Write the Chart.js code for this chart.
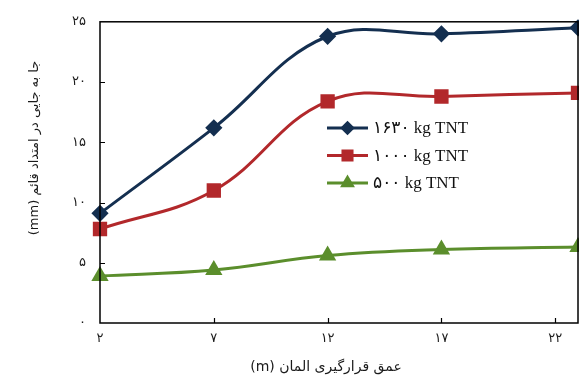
<!DOCTYPE html>
<html>
<head>
<meta charset="utf-8">
<script src="https://cdn.jsdelivr.net/npm/chart.js@4/dist/chart.umd.min.js"></script>
<style>
  html, body { margin: 0; padding: 0; background: #fff; }
  #wrap { width: 579px; height: 380px; position: relative; }
</style>
</head>
<body>
<div id="wrap"><canvas id="c" width="579" height="380"></canvas></div>
<script>
// ---- data ----
const depths = [2, 7, 12, 17, 23];
const tnt1630 = [9.1, 16.2, 23.8, 24.0, 24.5];
const tnt1000 = [7.8, 11.0, 18.4, 18.8, 19.1];
const tnt500 = [3.9, 4.4, 5.6, 6.1, 6.3];
const seriesLabels = ['۱۶۳۰ kg TNT', '۱۰۰۰ kg TNT', '۵۰۰ kg TNT'];
const xTickValues = [2, 7, 12, 17, 22];
const xTickLabels = ['۲', '۷', '۱۲', '۱۷', '۲۲'];
const yTickValues = [0, 5, 10, 15, 20, 25];
const yTickLabels = ['۰', '۵', '۱۰', '۱۵', '۲۰', '۲۵'];
const xTitle = 'عمق قرارگیری المان (m)';
const yTitle = 'جا به جایی در امتداد قائم (mm)';

const COLORS = ['#142f50', '#b2282b', '#5b8e2c'];
const FONT_FA = '"DejaVu Sans", sans-serif';

function pts(arr) { return depths.map((x, i) => ({ x: x, y: arr[i] })); }

const frameAndTicks = {
  id: 'frameAndTicks',
  afterDatasetsDraw(chart) {
    const { ctx, chartArea: a, scales } = chart;
    ctx.save();
    ctx.strokeStyle = '#000';
    ctx.lineWidth = 1.5;
    ctx.strokeRect(a.left, a.top, a.right - a.left, a.bottom - a.top);
    ctx.lineWidth = 1.2;
    ctx.beginPath();
    xTickValues.forEach(v => {
      if (v === scales.x.min) return;
      const px = Math.round(scales.x.getPixelForValue(v)) + 0.5;
      ctx.moveTo(px, a.bottom);
      ctx.lineTo(px, a.bottom - 5);
    });
    yTickValues.forEach(v => {
      if (v === scales.y.min || v === scales.y.max) return;
      const py = Math.round(scales.y.getPixelForValue(v)) + 0.5;
      ctx.moveTo(a.left, py);
      ctx.lineTo(a.left + 5, py);
    });
    ctx.stroke();
    ctx.restore();
  }
};

const titlesPlugin = {
  id: 'titlesPlugin',
  afterDraw(chart) {
    const { ctx } = chart;
    ctx.save();
    ctx.fillStyle = '#1a1a1a';
    ctx.direction = 'rtl';
    ctx.textAlign = 'center';
    ctx.textBaseline = 'middle';
    ctx.font = '14px ' + FONT_FA;
    ctx.fillText(xTitle, 326, 367);
    ctx.font = '13px ' + FONT_FA;
    ctx.translate(35, 148);
    ctx.rotate(-Math.PI / 2);
    ctx.fillText(yTitle, 0, 0);
    ctx.restore();
  }
};

const legendPlugin = {
  id: 'legendPlugin',
  afterDraw(chart) {
    const { ctx } = chart;
    ctx.save();
    chart.data.datasets.forEach((ds, i) => {
      const y = 128 + i * 27.5;
      ctx.strokeStyle = ds.borderColor;
      ctx.lineWidth = 3;
      ctx.beginPath();
      ctx.moveTo(327, y);
      ctx.lineTo(368, y);
      ctx.stroke();
      ctx.fillStyle = ds.borderColor;
      ctx.strokeStyle = ds.borderColor;
      Chart.helpers.drawPoint(ctx, {
        pointStyle: ds.pointStyle,
        radius: ds.pointRadius * 0.8,
        borderWidth: 1,
        rotation: 0
      }, 347.5, y);
      ctx.fillStyle = '#111';
      ctx.direction = 'ltr';
      ctx.textAlign = 'left';
      ctx.textBaseline = 'middle';
      ctx.font = '17px "Liberation Serif", "DejaVu Sans", serif';
      ctx.fillText(ds.label, 373, y + 1);
    });
    ctx.restore();
  }
};

const mk = (label, data, color, style, r) => ({
  label: label,
  data: pts(data),
  borderColor: color,
  backgroundColor: color,
  pointBackgroundColor: color,
  pointBorderColor: color,
  pointStyle: style,
  pointRadius: r,
  pointHoverRadius: r,
  borderWidth: 3,
  tension: 0.4,
  clip: false
});

new Chart(document.getElementById('c'), {
  type: 'line',
  data: {
    datasets: [
      mk(seriesLabels[0], tnt1630, COLORS[0], 'rectRot', 6.5),
      mk(seriesLabels[1], tnt1000, COLORS[1], 'rect', 8),
      mk(seriesLabels[2], tnt500, COLORS[2], 'triangle', 7)
    ]
  },
  options: {
    responsive: false,
    animation: false,
    devicePixelRatio: 1,
    layout: { autoPadding: false, padding: { left: 0, right: 1, top: 20, bottom: 0 } },
    plugins: { legend: { display: false }, tooltip: { enabled: false } },
    scales: {
      x: {
        type: 'linear',
        min: 2, max: 23,
        grid: { display: false, drawTicks: false },
        border: { display: false },
        afterBuildTicks(s) { s.ticks = xTickValues.map(v => ({ value: v })); },
        afterFit(s) { s.height = 57; },
        ticks: {
          padding: 8,
          maxRotation: 0,
          color: '#1a1a1a',
          font: { family: FONT_FA, size: 13 },
          callback(v) { const i = xTickValues.indexOf(v); return i >= 0 ? xTickLabels[i] : ''; }
        }
      },
      y: {
        min: 0, max: 25,
        grid: { display: false, drawTicks: false },
        border: { display: false },
        afterBuildTicks(s) { s.ticks = yTickValues.map(v => ({ value: v })); },
        afterFit(s) { s.width = 100; },
        ticks: {
          padding: 14,
          color: '#1a1a1a',
          font: { family: FONT_FA, size: 13 },
          callback(v) { const i = yTickValues.indexOf(v); return i >= 0 ? yTickLabels[i] : ''; }
        }
      }
    }
  },
  plugins: [frameAndTicks, titlesPlugin, legendPlugin]
});
</script>
</body>
</html>
